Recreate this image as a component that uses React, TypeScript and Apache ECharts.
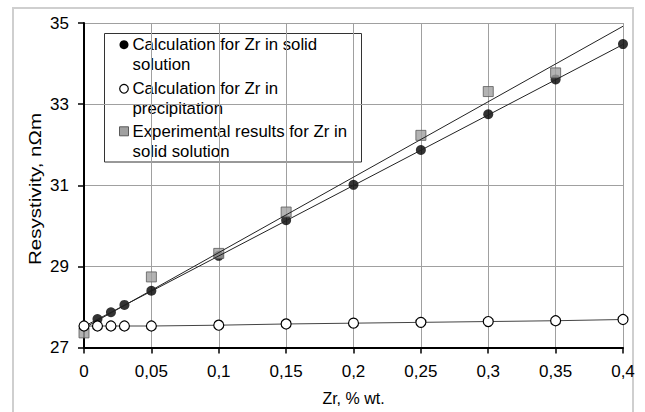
import React, { useEffect, useRef } from "react";
import * as echarts from "echarts";

const xSolid = [0, 0.01, 0.02, 0.03, 0.05, 0.1, 0.15, 0.2, 0.25, 0.3, 0.35, 0.4];
const ySolid = [27.52, 27.7, 27.87, 28.05, 28.4, 29.26, 30.14, 31.01, 31.87, 32.75, 33.61, 34.48];
const xPrecip = [0, 0.01, 0.02, 0.03, 0.05, 0.1, 0.15, 0.2, 0.25, 0.3, 0.35, 0.4];
const yPrecip = [27.53, 27.53, 27.53, 27.53, 27.53, 27.55, 27.58, 27.6, 27.62, 27.64, 27.66, 27.69];
const xExp = [0, 0.05, 0.1, 0.15, 0.25, 0.3, 0.35];
const yExp = [27.36, 28.74, 29.32, 30.34, 32.23, 33.31, 33.77];
const trendSolid: number[][] = [[0, 27.52], [0.4, 34.47]];
const trendExp: number[][] = [[0, 27.48], [0.4, 34.92]];

const legendNames = [
  ["Calculation for Zr in solid", "solution"],
  ["Calculation for Zr in", "precipitation"],
  ["Experimental results for Zr in", "solid solution"],
];
const xTitle = "Zr, % wt.";
const yTitle = "Resystivity, nΩm";

const FONT = "'Liberation Sans', Arial, sans-serif";

export default function App() {
  const ref = useRef<HTMLDivElement>(null);
  useEffect(() => {
    if (!ref.current) return;
    const chart = echarts.init(ref.current, null, { renderer: "svg" });
    const zip = (xs: number[], ys: number[]) => xs.map((x, i) => [x, ys[i]]);
    const rowY = [44.7, 64.5, 88.7, 108, 131.3, 151];
    const legendTexts: any[] = [];
    legendNames.forEach((lines, i) => {
      lines.forEach((t, j) => {
        legendTexts.push({
          type: "text",
          x: 132.5,
          y: rowY[i * 2 + j],
          style: { text: t, fontSize: 16.8, fontFamily: FONT, fill: "#000", verticalAlign: "middle", align: "left" },
        });
      });
    });
    chart.setOption({
      animation: false,
      backgroundColor: "#fff",
      textStyle: { fontFamily: FONT },
      grid: { left: 84, right: 22, top: 23, bottom: 64.5, containLabel: false },
      xAxis: {
        type: "value",
        min: 0,
        max: 0.4,
        interval: 0.05,
        name: xTitle,
        nameLocation: "middle",
        nameGap: 42.5,
        nameTextStyle: { fontSize: 16, color: "#000", fontFamily: FONT },
        axisLine: { show: true, onZero: false, lineStyle: { color: "#000", width: 2 } },
        axisTick: { show: true, length: 6, lineStyle: { color: "#000", width: 1.5 } },
        axisLabel: {
          fontSize: 17,
          color: "#000",
          margin: 15,
          fontFamily: FONT,
          formatter: (v: number) => String(+v.toFixed(2)).replace(".", ","),
        },
        splitLine: { show: true, lineStyle: { color: "#a0a0a0", width: 1 } },
      },
      yAxis: {
        type: "value",
        min: 27,
        max: 35,
        interval: 2,
        axisLine: { show: true, onZero: false, lineStyle: { color: "#000", width: 2 } },
        axisTick: { show: true, length: 6, lineStyle: { color: "#000", width: 1.5 } },
        axisLabel: { fontSize: 17, color: "#000", margin: 15, fontFamily: FONT },
        splitLine: { show: true, lineStyle: { color: "#a0a0a0", width: 1 } },
      },
      series: [
        {
          type: "line",
          data: trendSolid,
          symbol: "none",
          lineStyle: { color: "#222", width: 1 },
          silent: true,
        },
        {
          type: "line",
          data: trendExp,
          symbol: "none",
          lineStyle: { color: "#222", width: 1 },
          silent: true,
        },
        {
          name: "Calculation for Zr in solid solution",
          type: "scatter",
          data: zip(xSolid, ySolid),
          symbol: "circle",
          symbolSize: 10,
          itemStyle: { color: "#000" },
        },
        {
          name: "Calculation for Zr in precipitation",
          type: "line",
          data: zip(xPrecip, yPrecip),
          symbol: "circle",
          symbolSize: 10,
          showAllSymbol: true,
          lineStyle: { color: "#444", width: 1 },
          itemStyle: { color: "#fff", borderColor: "#000", borderWidth: 1.2 },
        },
        {
          name: "Experimental results for Zr in solid solution",
          type: "scatter",
          data: zip(xExp, yExp),
          symbol: "rect",
          symbolSize: 10,
          itemStyle: { color: "#a0a0a0", borderColor: "#5a5a5a", borderWidth: 1 },
        },
      ],
      graphic: [
        {
          type: "rect",
          z: -10,
          shape: { x: 13, y: 8, width: 620, height: 420 },
          style: { fill: "none", stroke: "#cfcfcf", lineWidth: 2 },
        },
        {
          type: "text",
          x: 35.5,
          y: 189,
          rotation: Math.PI / 2,
          scaleX: 1.21,
          style: { text: yTitle, fontSize: 17, fontFamily: FONT, fill: "#000", align: "center", verticalAlign: "middle" },
        },
        {
          type: "group",
          z: 100,
          children: [
            {
              type: "rect",
              shape: { x: 104.5, y: 33.5, width: 257, height: 128.5 },
              style: { fill: "#fff", stroke: "#333", lineWidth: 1 },
            },
            { type: "circle", shape: { cx: 124, cy: 44.7, r: 4.5 }, style: { fill: "#000" } },
            { type: "circle", shape: { cx: 124, cy: 88.7, r: 4.3 }, style: { fill: "#fff", stroke: "#000", lineWidth: 1.2 } },
            { type: "rect", shape: { x: 119.5, y: 126.8, width: 9, height: 9 }, style: { fill: "#a0a0a0", stroke: "#5a5a5a", lineWidth: 1 } },
            ...legendTexts,
          ],
        },
      ],
    });
    return () => chart.dispose();
  }, []);
  return (
    <div
      ref={ref}
      style={{ position: "fixed", left: 0, top: 0, width: 645, height: 412 }}
    />
  );
}
